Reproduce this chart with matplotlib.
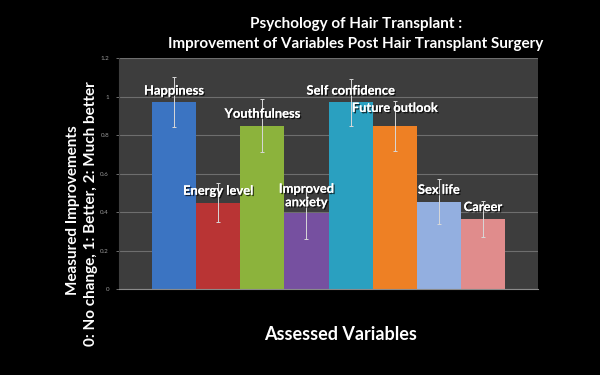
import matplotlib
matplotlib.use("Agg")
import matplotlib.pyplot as plt
import matplotlib.patheffects as pe
import numpy as np

categories = ["Happiness", "Energy level", "Youthfulness", "Improved\nanxiety",
              "Self confidence", "Future outlook", "Sex life", "Career"]
values = [0.97, 0.45, 0.85, 0.395, 0.97, 0.845, 0.455, 0.365]
errors = [0.13, 0.10, 0.14, 0.135, 0.12, 0.13, 0.115, 0.095]
colors = ["#3b74c2", "#b93434", "#8cb33c", "#7650a0", "#2aa0c0", "#ee8024", "#93afe0", "#e08c8c"]
yticks = [0, 0.2, 0.4, 0.6, 0.8, 1.0, 1.2]
yticklabels = ["0", "0.2", "0.4", "0.6", "0.8", "1", "1.2"]
label_offsets = [0.03, 0.03, 0.03, 0.025, 0.03, 0.065, 0.03, 0.03]

plt.rcParams['font.family'] = ['Lato', 'DejaVu Sans']

fig = plt.figure(figsize=(6, 3.75), dpi=100, facecolor="black")
ax = fig.add_axes([0.198, 0.229, 0.699, 0.616])
ax.set_facecolor("#3d3d3d")

x = np.arange(len(categories))
ax.bar(x, values, width=1.0, color=colors, edgecolor="none", zorder=2)
ax.errorbar(x, values, yerr=errors, fmt="none", ecolor="#d8d8d8", elinewidth=0.7,
            capsize=1.5, capthick=0.7, zorder=3)

shadow = [pe.withSimplePatchShadow(offset=(1, -1), shadow_rgbFace="black", alpha=0.7), pe.Normal()]
for xi, v, lab, off in zip(x, values, categories, label_offsets):
    ax.text(xi, v + off, lab, ha="center", va="bottom", color="white",
            fontsize=9.3, fontweight="bold", linespacing=1.15, zorder=4, path_effects=shadow)

ax.set_xlim(-1.25, 8.25)
ax.set_ylim(0, 1.2)
ax.set_yticks(yticks)
ax.set_yticklabels(yticklabels)
ax.set_xticks([])
ax.tick_params(axis="y", colors="#9a9a9a", labelsize=4.5, length=2, width=0.5, pad=5)
ax.yaxis.grid(True, color="#6e6e6e", linewidth=0.8, zorder=0)
ax.set_axisbelow(True)
for s in ["top", "right"]:
    ax.spines[s].set_visible(False)
ax.spines["bottom"].set_color("#8a8a8a")
ax.spines["left"].set_color("#3d3d3d")

fig.text(0.593, 0.936, "Psychology of Hair Transplant :", ha="center", va="center",
         color="white", fontsize=11, fontweight="bold")
fig.text(0.593, 0.882, "Improvement of Variables Post Hair Transplant Surgery", ha="center",
         va="center", color="white", fontsize=11, fontweight="bold")
fig.text(0.567, 0.107, "Assessed Variables", ha="center", va="center", color="white",
         fontsize=13, fontweight="bold")
fig.text(0.122, 0.44, "Measured Improvements", ha="center", va="center", color="white",
         fontsize=11, fontweight="bold", rotation=90)
fig.text(0.152, 0.43, "0: No change, 1: Better, 2: Much better", ha="center", va="center",
         color="white", fontsize=11, fontweight="bold", rotation=90)

fig.savefig("out.png", dpi=100, facecolor="black")
